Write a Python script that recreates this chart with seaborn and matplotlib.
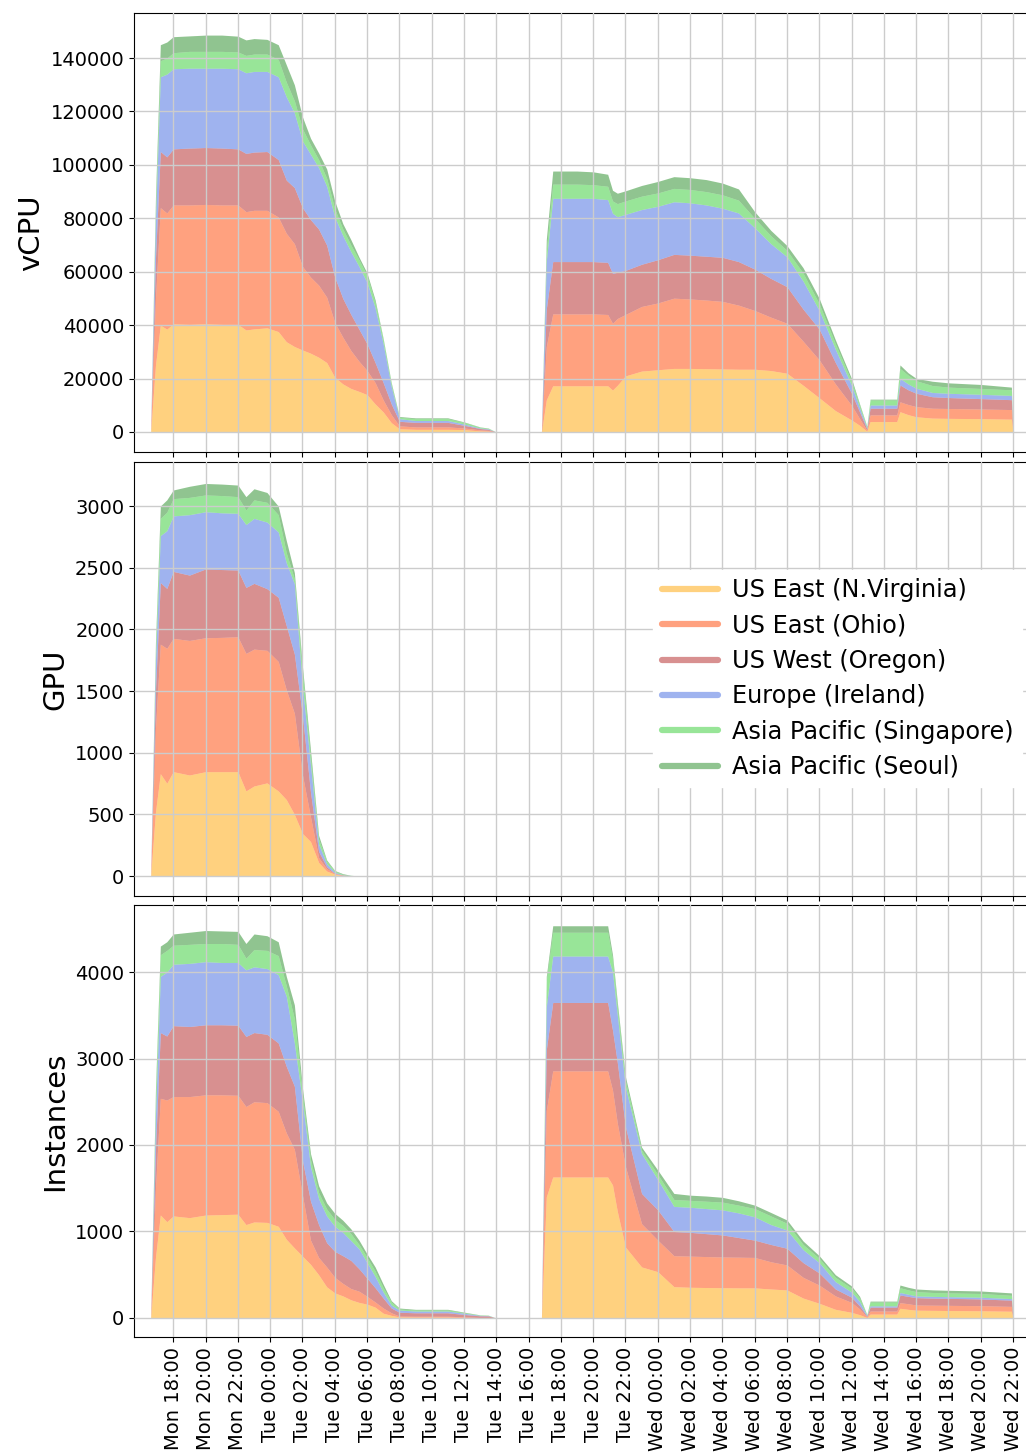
import seaborn as sns
import matplotlib.pyplot as plt
from matplotlib.lines import Line2D

# hours counted from Monday 00:00
hours = [16.6, 16.9, 17.2, 17.6, 18, 19, 20, 21, 22, 22.5, 23, 23.8, 24.5, 25, 25.5,
         26, 26.5, 27, 27.5, 28, 28.5, 29, 29.5, 30, 30.5, 31, 31.5, 32, 33, 34, 35,
         36, 37, 37.5, 38, 40.8, 41.1, 41.5, 42, 43, 44, 44.9, 45.2, 45.5, 46, 47, 48,
         49, 50, 51, 52, 53, 54, 55, 56, 57, 58, 59, 60, 60.5, 60.95, 61.15, 62.8, 63.0,
         63.5, 64, 65, 66, 68, 69.9, 70.0]

regions = ["US East (N.Virginia)", "US East (Ohio)", "US West (Oregon)",
           "Europe (Ireland)", "Asia Pacific (Singapore)", "Asia Pacific (Seoul)"]
colors = ["orange", "orangered", "firebrick", "royalblue", "limegreen", "forestgreen"]

tick_hours = [18, 20, 22, 24, 26, 28, 30, 32, 34, 36, 38, 40, 42, 44,
              46, 48, 50, 52, 54, 56, 58, 60, 62, 64, 66, 68, 70]
tick_labels = ["Mon 18:00", "Mon 20:00", "Mon 22:00", "Tue 00:00", "Tue 02:00",
               "Tue 04:00", "Tue 06:00", "Tue 08:00", "Tue 10:00", "Tue 12:00",
               "Tue 14:00", "Tue 16:00", "Tue 18:00", "Tue 20:00", "Tue 22:00",
               "Wed 00:00", "Wed 02:00", "Wed 04:00", "Wed 06:00", "Wed 08:00",
               "Wed 10:00", "Wed 12:00", "Wed 14:00", "Wed 16:00", "Wed 18:00",
               "Wed 20:00", "Wed 22:00"]

# vCPU per region
vcpu_nva = [0, 25000, 40000, 38500, 40500, 40300, 40500, 40300, 40300, 38200, 38600, 39000,
            37600, 33800, 32000, 30700, 29500, 28000, 26000, 20500, 18000, 16300, 15200,
            14000, 10500, 7500, 3500, 1200, 1000, 1000, 1000, 900, 400, 300, 0, 0, 12000,
            17300, 17300, 17300, 17300, 17300, 15700, 17500, 21000, 22800, 23300, 23800,
            23800, 23700, 23600, 23500, 23500, 23000, 22000, 17500, 12800, 8000, 4500, 2500,
            300, 3900, 3900, 7600, 6500, 5700, 5200, 5100, 5000, 4800, 0]
vcpu_ohio = [0, 25000, 44000, 43500, 44500, 44700, 44700, 44700, 44700, 44300, 44400, 44000,
             42900, 40600, 38500, 31300, 28500, 27000, 24500, 20500, 17500, 14200, 11300,
             9000, 8000, 4500, 3000, 1100, 900, 900, 900, 600, 400, 300, 0, 0, 20000,
             26900, 26900, 26900, 26900, 26700, 25000, 25000, 23000, 24200, 25000, 26300,
             26000, 25700, 25300, 24000, 22000, 20000, 18700, 16500, 14200, 10000, 5500,
             2500, 400, 2500, 2500, 3700, 3800, 3800, 3700, 3700, 3600, 3600, 0]
vcpu_oregon = [0, 15000, 21000, 21000, 21000, 21300, 21300, 21300, 21000, 21800, 21800,
               22000, 21500, 19900, 21000, 22000, 21500, 21000, 19500, 17000, 14500, 13500,
               12000, 10000, 7500, 6500, 4000, 1700, 1700, 1700, 1700, 1000, 500, 400, 0, 0,
               14000, 19600, 19600, 19600, 19600, 19500, 18700, 17300, 16500, 15800, 16200,
               16400, 16400, 16400, 16500, 16300, 15500, 14500, 13700, 12000, 11500, 8000,
               4500, 2500, 500, 2500, 2500, 6300, 5500, 5000, 4300, 4100, 3900, 3700, 0]
vcpu_ireland = [0, 15000, 28000, 31000, 30000, 29900, 29700, 29900, 30000, 30200, 30200,
                30000, 31000, 31200, 28000, 25000, 24500, 23000, 22000, 22500, 23500, 23500,
                23500, 23000, 20500, 14500, 6500, 1000, 700, 700, 700, 500, 200, 200, 0, 0,
                18000, 23700, 23700, 23700, 23700, 23500, 22500, 20800, 21000, 20500, 20000,
                19700, 19600, 19200, 18400, 18200, 15500, 13000, 11200, 10500, 7000, 5000,
                3000, 1500, 400, 1200, 1200, 2500, 2200, 1900, 1600, 1600, 1600, 1600, 0]
vcpu_singapore = [0, 4000, 6000, 6000, 6000, 6300, 6300, 6300, 6300, 6500, 6500, 6500, 6500,
                  5500, 4500, 4500, 3500, 3000, 3000, 3000, 2500, 2500, 2500, 2500, 2000,
                  1500, 1000, 500, 700, 700, 700, 600, 300, 200, 0, 0, 4000, 5300, 5300,
                  5300, 5100, 5000, 4600, 4900, 5000, 5000, 5000, 5000, 5000, 5000, 5000,
                  4800, 3500, 3000, 2400, 3000, 2500, 2000, 1500, 1000, 400, 1900, 1900,
                  3700, 3300, 2800, 2600, 2300, 2200, 2100, 0]
vcpu_seoul = [0, 4000, 6000, 6000, 6000, 5800, 6100, 6100, 5900, 5800, 5800, 5500, 5500,
              6500, 6000, 4500, 2500, 2500, 3500, 3000, 2000, 2000, 1000, 1000, 1000, 500,
              500, 300, 300, 300, 300, 200, 100, 100, 0, 0, 4000, 4900, 4900, 4900, 4800,
              4500, 4000, 3900, 3800, 4000, 4300, 4400, 4400, 4500, 4400, 4200, 2500, 2000,
              1800, 2000, 2000, 1500, 1000, 500, 200, 300, 300, 1300, 900, 900, 1600, 1600,
              1500, 1000, 0]

# GPU per region (nothing after Tue 05:00)
gpu_nva = [0, 520, 830, 752, 846, 819, 846, 846, 846, 690, 730, 755, 690, 620, 500, 345,
           280, 110, 40, 15, 3, 1] + [0] * 49
gpu_ohio = [0, 680, 1050, 1094, 1081, 1091, 1086, 1089, 1094, 1115, 1110, 1075, 1050, 890,
            820, 475, 200, 40, 20, 5, 3, 1] + [0] * 49
gpu_oregon = [0, 300, 500, 486, 543, 530, 558, 550, 541, 535, 533, 500, 520, 520, 480, 480,
              200, 50, 15, 2, 2, 1] + [0] * 49
gpu_ireland = [0, 250, 380, 468, 450, 490, 464, 460, 460, 510, 527, 540, 530, 510, 570, 240,
               220, 60, 25, 8, 2, 1] + [0] * 49
gpu_singapore = [0, 100, 140, 150, 140, 140, 136, 140, 135, 118, 150, 160, 140, 80, 40, 110,
                 60, 40, 20, 10, 4, 1] + [0] * 49
gpu_seoul = [0, 50, 100, 100, 70, 90, 93, 93, 94, 108, 90, 80, 70, 100, 50, 50, 60, 30, 10,
             5, 5, 1] + [0] * 49

# Instances per region
inst_nva = [0, 700, 1191, 1113, 1180, 1160, 1190, 1195, 1200, 1080, 1110, 1105, 1060, 910,
            810, 715, 620, 500, 360, 290, 255, 210, 180, 160, 125, 55, 30, 12, 10, 10, 10, 6,
            2, 2, 0, 0, 1400, 1630, 1630, 1630, 1630, 1630, 1538, 1230, 820, 590, 535, 362,
            355, 352, 350, 348, 348, 335, 324, 230, 170, 100, 65, 38, 5, 45, 45, 112, 100,
            90, 88, 86, 83, 78, 0]
inst_ohio = [0, 800, 1349, 1407, 1380, 1400, 1390, 1385, 1375, 1365, 1390, 1385, 1330, 1230,
             1140, 705, 280, 200, 230, 180, 145, 130, 130, 90, 60, 60, 30, 10, 10, 10, 10, 8,
             3, 3, 0, 0, 1000, 1227, 1227, 1227, 1227, 1227, 1098, 1020, 930, 500, 365, 358,
             360, 358, 355, 355, 352, 315, 289, 240, 210, 155, 115, 67, 10, 35, 35, 65, 65,
             60, 60, 60, 59, 56, 0]
inst_oregon = [0, 450, 760, 740, 820, 810, 810, 810, 810, 810, 800, 790, 790, 770, 730, 400,
               450, 380, 280, 300, 320, 325, 260, 210, 165, 115, 55, 44, 40, 40, 40, 26, 20,
               19, 0, 0, 700, 791, 791, 791, 791, 791, 693, 700, 460, 350, 350, 280, 275, 265,
               255, 227, 200, 200, 193, 170, 140, 80, 60, 35, 7, 45, 45, 89, 85, 85, 82, 81,
               78, 72, 0]
inst_ireland = [0, 400, 650, 740, 710, 730, 730, 720, 725, 770, 760, 760, 790, 810, 500, 680,
                400, 300, 310, 290, 270, 230, 230, 180, 130, 70, 35, 26, 20, 20, 20, 15, 5, 4,
                0, 0, 500, 537, 537, 537, 537, 537, 671, 550, 460, 460, 350, 290, 290, 290,
                290, 285, 270, 230, 211, 150, 120, 85, 60, 50, 8, 15, 15, 29, 25, 20, 20, 19,
                20, 18, 0]
inst_singapore = [0, 200, 250, 250, 220, 220, 210, 220, 210, 135, 200, 210, 220, 120, 280,
                  80, 80, 70, 80, 80, 80, 80, 50, 60, 60, 50, 35, 12, 12, 12, 12, 7, 4, 3, 0,
                  0, 300, 275, 275, 275, 275, 275, 150, 90, 70, 40, 60, 80, 80, 85, 90, 90,
                  95, 100, 78, 60, 50, 50, 45, 40, 5, 45, 45, 55, 50, 50, 45, 44, 43, 38, 0]
inst_seoul = [0, 100, 100, 100, 130, 140, 150, 145, 150, 170, 180, 170, 160, 110, 160, 80,
              70, 80, 70, 70, 60, 55, 50, 40, 50, 40, 15, 11, 8, 8, 8, 6, 2, 2, 0, 0, 50, 75,
              75, 75, 75, 75, 50, 60, 50, 35, 50, 70, 60, 60, 55, 50, 40, 40, 38, 40, 30, 30,
              25, 20, 5, 10, 10, 31, 30, 30, 30, 30, 29, 28, 0]

vcpu = [vcpu_nva, vcpu_ohio, vcpu_oregon, vcpu_ireland, vcpu_singapore, vcpu_seoul]
gpu = [gpu_nva, gpu_ohio, gpu_oregon, gpu_ireland, gpu_singapore, gpu_seoul]
inst = [inst_nva, inst_ohio, inst_oregon, inst_ireland, inst_singapore, inst_seoul]

sns.set_style("ticks", {"axes.grid": True, "axes.axisbelow": False,
                        "grid.color": "#cccccc", "axes.edgecolor": "black",
                        "text.color": "black", "axes.labelcolor": "black",
                        "xtick.color": "black", "ytick.color": "black"})
plt.rcParams["font.family"] = ["DejaVu Sans"]

fig, axes = plt.subplots(3, 1, figsize=(10.26, 14.54), dpi=100, sharex=True)

# axes boxes in pixels (top, bottom) of the 1026x1454 canvas
W, H = 1026, 1454
boxes = [(13, 452), (462, 896), (905, 1337)]
for ax, (t, b) in zip(axes, boxes):
    ax.set_position([134 / W, 1 - b / H, (1029 - 134) / W, (b - t) / H])

panels = [
    ("vCPU", vcpu, (-7490, 156870), range(0, 140001, 20000)),
    ("GPU", gpu, (-162, 3357), range(0, 3001, 500)),
    ("Instances", inst, (-220, 4775), range(0, 4001, 1000)),
]

for ax, (label, series, ylim, yticks) in zip(axes, panels):
    ax.stackplot(hours, *series, colors=colors, alpha=0.5, linewidth=0)
    ax.set_ylim(*ylim)
    ax.set_yticks(list(yticks))
    ax.set_ylabel(label, fontsize=21)
    ax.tick_params(labelsize=14)
    ax.grid(True, color="#cccccc", linewidth=1)

axes[-1].set_xlim(15.57, 70.99)
axes[-1].set_xticks(tick_hours)
axes[-1].set_xticklabels(tick_labels, rotation=90)

handles = [Line2D([], [], color=c, alpha=0.5, lw=4.5) for c in colors]
axes[1].legend(handles, regions, loc="upper left", bbox_to_anchor=(0.58, 0.751),
               fontsize=17.3, frameon=True, framealpha=1, edgecolor="white",
               fancybox=False, labelspacing=0.47, handlelength=2.35,
               handletextpad=0.6, borderpad=0.35, borderaxespad=0)

fig.savefig("out.png", dpi=100)
